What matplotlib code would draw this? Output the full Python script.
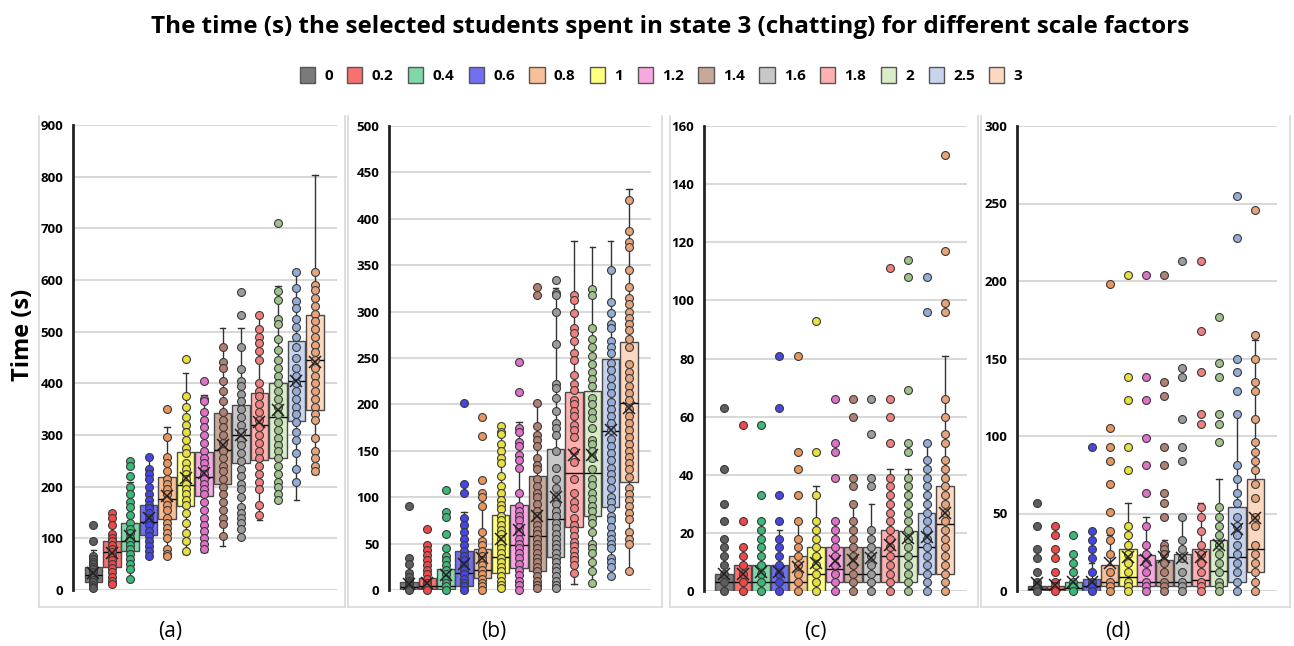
import matplotlib
matplotlib.use("Agg")
import matplotlib.pyplot as plt
from matplotlib.patches import Patch
from matplotlib.lines import Line2D

plt.rcParams['font.family'] = ['Open Sans', 'DejaVu Sans']

# ---------------- data ----------------
scale_factors = ['0', '0.2', '0.4', '0.6', '0.8', '1', '1.2', '1.4', '1.6', '1.8', '2', '2.5', '3']
panel_labels = ['(a)', '(b)', '(c)', '(d)']
title = 'The time (s) the selected students spent in state 3 (chatting) for different scale factors'
y_label = 'Time (s)'

# Panel (a)
a_q1 = [16, 45, 76, 106, 137, 163, 181, 206, 245, 251, 256, 328, 348]
a_med = [29, 73, 95, 132, 177, 204, 219, 271, 300, 319, 335, 405, 446]
a_q3 = [45, 95, 129, 165, 219, 268, 268, 342, 358, 382, 401, 482, 533]
a_wlo = [2, 12, 22, 62, 65, 70, 73, 86, 100, 135, 172, 175, 225]
a_whi = [78, 150, 210, 258, 316, 420, 378, 508, 508, 532, 588, 615, 803]
a_mean = [32, 72, 105, 140, 182, 216, 226, 281, 300, 326, 348, 405, 441]
a_pts = [
    [126, 94, 65, 60, 55, 50, 45, 40, 35, 30, 25, 20, 15, 10, 5, 3],
    [150, 140, 125, 108, 100, 95, 88, 80, 73, 65, 58, 50, 42, 35, 25, 18, 12],
    [250, 240, 220, 200, 185, 170, 160, 145, 130, 118, 110, 100, 95, 88, 80, 70, 60, 50, 40, 22],
    [258, 235, 225, 215, 200, 185, 175, 165, 158, 150, 140, 132, 125, 115, 105, 95, 85, 75, 65],
    [350, 296, 258, 245, 230, 215, 205, 195, 185, 175, 165, 155, 140, 130, 120, 110, 100, 80, 70, 65],
    [447, 375, 355, 335, 320, 305, 290, 275, 265, 245, 235, 225, 215, 205, 195, 185, 175, 165, 150, 130, 110, 95, 75],
    [405, 370, 365, 345, 330, 315, 300, 285, 270, 255, 245, 235, 225, 215, 205, 195, 185, 170, 155, 140, 125, 115, 100, 90, 80],
    [470, 442, 430, 405, 385, 365, 345, 330, 315, 300, 285, 270, 255, 240, 230, 215, 200, 185, 170, 155, 140, 128, 105],
    [577, 532, 470, 428, 405, 395, 380, 365, 350, 335, 320, 305, 290, 280, 265, 250, 235, 220, 205, 195, 180, 160, 150, 140, 130, 118, 102],
    [532, 505, 490, 478, 462, 445, 400, 385, 375, 360, 345, 330, 315, 300, 285, 270, 255, 240, 225, 210, 195, 165, 145],
    [710, 578, 562, 525, 515, 485, 465, 445, 430, 415, 400, 385, 370, 355, 340, 325, 310, 295, 280, 270, 255, 240, 225, 210, 200, 185, 175],
    [615, 585, 560, 545, 525, 510, 490, 470, 450, 430, 415, 400, 385, 370, 355, 340, 325, 305, 290, 265, 235, 210],
    [615, 590, 580, 565, 550, 535, 520, 505, 490, 475, 460, 445, 430, 415, 400, 385, 370, 355, 340, 330, 295, 270, 255, 240, 230],
]

# Panel (b)
b_q1 = [0, 1, 1, 4, 13, 18, 24, 21, 36, 68, 80, 89, 116]
b_med = [3, 4, 4, 18, 22, 36, 48, 58, 76, 126, 126, 171, 201]
b_q3 = [9, 13, 23, 42, 44, 81, 92, 123, 152, 213, 214, 249, 267]
b_wlo = [0, 0, 0, 0, 0, 2, 0, 2, 0, 7, 8, 14, 20]
b_whi = [21, 48, 45, 84, 90, 177, 181, 201, 325, 376, 370, 376, 432]
b_mean = [7, 8, 16, 28, 34, 55, 65, 80, 100, 145, 145, 172, 196]
b_pts = [
    [90, 34, 28, 18, 14, 10, 8, 5, 3, 1, 0],
    [66, 48, 43, 38, 32, 27, 22, 17, 12, 8, 5, 2, 0],
    [108, 84, 79, 60, 45, 37, 32, 27, 22, 17, 12, 8, 4, 0],
    [201, 114, 105, 78, 70, 62, 55, 48, 42, 37, 32, 27, 22, 17, 12, 8, 4, 0],
    [186, 166, 118, 105, 100, 90, 63, 53, 48, 42, 37, 32, 27, 22, 17, 12, 8, 4, 0],
    [177, 170, 168, 157, 150, 142, 137, 123, 112, 104, 97, 92, 87, 80, 75, 70, 65, 60, 55, 50, 45, 40, 35, 30, 25, 20, 15, 10, 5, 2],
    [246, 213, 175, 170, 160, 155, 145, 140, 132, 105, 90, 85, 80, 75, 68, 62, 55, 50, 45, 40, 34, 28, 22, 16, 10, 5, 0],
    [327, 318, 201, 177, 167, 162, 155, 142, 135, 130, 120, 112, 105, 100, 93, 85, 80, 75, 70, 65, 60, 55, 50, 45, 40, 35, 30, 25, 20, 15, 10, 5, 2],
    [334, 320, 318, 300, 265, 222, 218, 207, 193, 180, 175, 167, 150, 132, 120, 110, 100, 93, 85, 80, 72, 67, 60, 55, 50, 45, 40, 35, 30, 25, 20, 15, 10, 5, 2],
    [318, 312, 298, 282, 277, 268, 255, 248, 232, 222, 215, 205, 200, 193, 188, 178, 172, 165, 150, 138, 120, 105, 95, 88, 78, 70, 65, 58, 52, 47, 42, 37, 32, 27, 18],
    [324, 318, 282, 270, 262, 252, 243, 235, 227, 220, 207, 200, 192, 185, 175, 162, 157, 150, 142, 130, 120, 113, 105, 98, 90, 85, 78, 72, 62, 50, 45, 40, 30, 20, 8],
    [345, 310, 298, 287, 282, 268, 262, 255, 245, 237, 228, 220, 212, 203, 195, 188, 180, 172, 163, 155, 148, 140, 132, 125, 118, 110, 100, 95, 88, 80, 75, 68, 60, 55, 50, 45, 35, 30, 25, 15],
    [420, 387, 375, 370, 345, 327, 315, 308, 300, 293, 287, 280, 270, 262, 243, 235, 228, 220, 212, 205, 195, 188, 180, 172, 165, 157, 150, 143, 137, 130, 122, 110, 103, 97, 90, 83, 77, 63, 55, 50, 20],
]

# Panel (c)
c_q1 = [0, 0, 0, 0, 0, 0, 3, 3, 3, 3, 3, 6, 6]
c_med = [3, 3, 3, 3, 3, 6, 7.5, 6, 6, 12, 12, 15, 23]
c_q3 = [6, 9, 9, 9, 12, 15, 15, 15, 15, 21, 20.5, 27, 36]
c_wlo = [0, 0, 0, 0, 0, 0, 0, 0, 0, 0, 0, 0, 0]
c_whi = [15, 15, 21, 21, 24, 36, 24, 30, 30, 42, 42, 51, 81]
c_mean = [6, 6, 6.6, 6.6, 8.4, 9.7, 10.4, 10.7, 11.2, 15.8, 18.3, 18.7, 26.7]
c_pts = [
    [63, 42, 30, 24, 18, 15, 12, 9, 6, 3, 0],
    [57, 24, 15, 12, 9, 6, 3, 0],
    [57, 33, 24, 21, 18, 15, 12, 9, 6, 3, 0],
    [81, 63, 33, 24, 18, 15, 12, 9, 6, 3, 0],
    [81, 48, 42, 33, 24, 18, 15, 12, 9, 6, 3, 0],
    [93, 48, 33, 24, 21, 18, 15, 12, 9, 6, 3, 0],
    [66, 51, 48, 39, 24, 21, 18, 15, 12, 9, 6, 3, 0],
    [66, 60, 39, 36, 30, 24, 21, 18, 15, 12, 9, 6, 3, 0],
    [66, 54, 39, 36, 21, 18, 15, 12, 9, 6, 3, 0],
    [111, 66, 60, 51, 39, 36, 33, 30, 27, 24, 21, 18, 15, 12, 9, 6, 3, 0],
    [114, 108, 69, 51, 48, 39, 36, 33, 30, 27, 24, 21, 18, 15, 12, 9, 6, 3, 0],
    [108, 96, 51, 45, 42, 39, 36, 33, 30, 27, 24, 21, 18, 15, 12, 9, 6, 3, 0],
    [150, 117, 99, 96, 66, 60, 54, 51, 45, 42, 39, 36, 33, 30, 27, 24, 21, 18, 15, 12, 9, 6, 3, 0],
]

# Panel (d)
d_q1 = [0, 0, 0, 0, 3, 3, 3, 3, 3, 3, 3, 6, 12]
d_med = [1, 1, 2, 3, 6, 9, 6, 6, 6, 7, 13, 22, 27]
d_q3 = [3, 3, 6, 8, 17, 27, 23, 20, 24, 27, 33, 54, 72]
d_wlo = [0, 0, 0, 0, 0, 0, 0, 0, 0, 0, 0, 0, 0]
d_whi = [6, 6, 14, 18, 36, 57, 48, 33, 48, 57, 72, 114, 162]
d_mean = [5, 4, 6, 6, 18, 22, 20, 22, 21, 22, 30, 40, 47]
d_pts = [
    [57, 42, 27, 21, 12, 6, 3, 0],
    [42, 36, 27, 21, 12, 6, 3, 0],
    [36, 24, 18, 12, 6, 3, 0],
    [93, 39, 33, 27, 21, 12, 6, 3, 0],
    [198, 105, 93, 84, 69, 51, 39, 33, 24, 12, 6, 3, 0],
    [204, 138, 123, 93, 78, 42, 36, 30, 24, 18, 12, 6, 3, 0],
    [204, 138, 123, 99, 81, 63, 42, 30, 24, 18, 12, 6, 3, 0],
    [204, 135, 126, 93, 81, 63, 57, 48, 30, 27, 24, 18, 12, 6, 3, 0],
    [213, 144, 138, 111, 93, 84, 48, 33, 27, 21, 12, 6, 3, 0],
    [213, 168, 141, 114, 108, 54, 48, 39, 30, 24, 18, 12, 6, 3, 0],
    [177, 147, 138, 114, 108, 96, 54, 48, 42, 36, 30, 24, 18, 12, 6, 3, 0],
    [255, 228, 150, 141, 129, 114, 81, 72, 63, 57, 48, 42, 36, 30, 24, 18, 12, 6, 0],
    [246, 165, 150, 135, 129, 111, 96, 90, 84, 78, 69, 60, 48, 42, 30, 24, 18, 12, 6, 0],
]

y_max = [900, 500, 160, 300]
y_step = [100, 50, 20, 50]

# ---------------- style ----------------
box_colors = ['#7a7a7a', '#f87070', '#80d8a8', '#7070f0', '#f8c098', '#ffff80', '#f8a8e0',
              '#c8a898', '#c8c8c8', '#ffb0b0', '#d8ecc8', '#c8d4ee', '#fcd8c0']
pt_colors = ['#5e5e5e', '#f04848', '#3cb878', '#4646e6', '#e89660', '#e6e040', '#e070c8',
             '#b08070', '#9c9c9c', '#f08080', '#a0c28c', '#94acd6', '#e6a47c']

W, H = 1294, 646
fig = plt.figure(figsize=(W / 100, H / 100), dpi=100)

ax_px = [(73, 337, 125, 590), (389, 651, 126, 590), (704, 967, 126, 591), (1017, 1277, 126, 591)]
frame_px = [(39, 345), (348, 662), (670, 978), (981, 1290)]
label_x = [170, 494, 815, 1118]

panels = [
    (a_q1, a_med, a_q3, a_wlo, a_whi, a_mean, a_pts),
    (b_q1, b_med, b_q3, b_wlo, b_whi, b_mean, b_pts),
    (c_q1, c_med, c_q3, c_wlo, c_whi, c_mean, c_pts),
    (d_q1, d_med, d_q3, d_wlo, d_whi, d_mean, d_pts),
]

edge = '#4a4a4a'
for p, (q1, med, q3, wlo, whi, mean, pts) in enumerate(panels):
    l, r, t, b = ax_px[p]
    ax = fig.add_axes([l / W, 1 - b / H, (r - l) / W, (b - t) / H])
    stats = []
    for i in range(len(scale_factors)):
        stats.append(dict(med=med[i], q1=q1[i], q3=q3[i], whislo=wlo[i], whishi=whi[i],
                          mean=mean[i], fliers=[]))
    positions = list(range(len(scale_factors)))
    bp = ax.bxp(stats, positions=positions, widths=0.95, patch_artist=True,
                showmeans=False, showfliers=False,
                medianprops=dict(color='black', lw=1.0),
                whiskerprops=dict(color='#333333', lw=1.0),
                capprops=dict(color='#333333', lw=1.0),
                boxprops=dict(edgecolor=edge, lw=1.0), capwidths=0.3, zorder=3)
    for i, patch in enumerate(bp['boxes']):
        patch.set_facecolor(box_colors[i])
        patch.set_zorder(2)
    for i in range(len(scale_factors)):
        ax.plot([positions[i]] * len(pts[i]), pts[i], 'o', ms=5.7, mfc=pt_colors[i],
                mec='#3a3a3a', mew=0.8, zorder=4, clip_on=False)
        ax.plot([positions[i]], [mean[i]], marker='x', ms=9, mew=1.1, color='#202020', zorder=5)
    ax.set_xlim(-1.1, 13.2)
    ax.set_ylim(0, y_max[p])
    ax.set_yticks(range(0, y_max[p] + 1, y_step[p]))
    ax.set_xticks([])
    ax.grid(axis='y', color='#d9d9d9', lw=1.5, zorder=0)
    ax.set_axisbelow(True)
    for s in ['top', 'right', 'bottom']:
        ax.spines[s].set_visible(False)
    ax.spines['left'].set_linewidth(2)
    ax.spines['left'].set_color('#222222')
    ax.tick_params(axis='y', length=0, pad=7, labelsize=9.5)
    for lab in ax.get_yticklabels():
        lab.set_fontweight('bold')
    ax.patch.set_alpha(0)

    fl, fr = frame_px[p]
    for xs, ys in [((fl, fl), (116, 607)), ((fr, fr), (116, 607)), ((fl, fr), (607, 607))]:
        fig.add_artist(Line2D([x / W for x in xs], [1 - y / H for y in ys],
                              color='#d9d9d9', lw=1.2))
    fig.text(label_x[p] / W, 1 - 632 / H, panel_labels[p], ha='center', va='center', fontsize=15)

fig.text(670 / W, 1 - 27 / H, title, ha='center', va='center', fontsize=17.5, fontweight='bold')
fig.text(23 / W, 1 - 335 / H, y_label, ha='center', va='center', rotation=90,
         fontsize=17, fontweight='bold')

handles = [Patch(facecolor=box_colors[i], edgecolor='#555555', lw=1.0) for i in range(len(scale_factors))]
leg = fig.legend(handles, scale_factors, loc='center', bbox_to_anchor=(661 / W, 1 - 75 / H), ncol=13,
                 frameon=False, handlelength=1.0, handleheight=1.3, handletextpad=0.6,
                 columnspacing=0.95, prop=dict(weight='bold', size=11))

fig.savefig('out.png', dpi=100)
